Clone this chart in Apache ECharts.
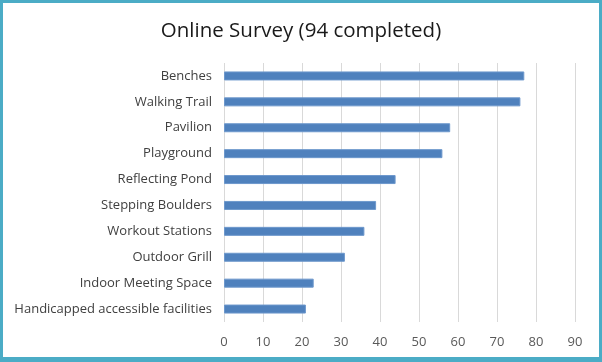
<!DOCTYPE html>
<html>
<head>
<meta charset="utf-8">
<script src="https://cdn.jsdelivr.net/npm/echarts@6/dist/echarts.min.js"></script>
<style>
html,body{margin:0;padding:0;background:#fff;}
#frame{position:absolute;left:0;top:0;width:602px;height:362px;box-sizing:border-box;border-style:solid;border-color:#4BACC6;border-width:3px 3px 5px 3px;}
#chart{position:absolute;left:0;top:0;width:602px;height:362px;}
</style>
</head>
<body>
<div id="chart"></div>
<div id="frame"></div>
<script>
var categories = ["Benches","Walking Trail","Pavilion","Playground","Reflecting Pond","Stepping Boulders","Workout Stations","Outdoor Grill","Indoor Meeting Space","Handicapped accessible facilities"];
var values = [77,76,58,56,44,39,36,31,23,21];
var xTicks = {min:0, max:90, interval:10};
var title = "Online Survey (94 completed)";

var chart = echarts.init(document.getElementById('chart'), null, {renderer:'canvas'});
chart.setOption({
  animation:false,
  backgroundColor:'#fff',
  title:{text:title,left:'center',top:16,textStyle:{fontFamily:'Open Sans',fontWeight:'normal',fontSize:20.5,color:'#1a1a1a'}},
  grid:{left:224,right:27,top:63,bottom:40,containLabel:false},
  xAxis:{type:'value',min:xTicks.min,max:xTicks.max,interval:xTicks.interval,
    axisLine:{show:false},axisTick:{show:false},
    splitLine:{lineStyle:{color:'#d9d9d9',width:1}},
    axisLabel:{color:'#595959',fontFamily:'Open Sans',fontSize:13,margin:14}},
  yAxis:{type:'category',data:categories,inverse:true,
    axisLine:{show:false},axisTick:{show:false},
    axisLabel:{color:'#404040',fontFamily:'Open Sans',fontSize:13,margin:12}},
  series:[{type:'bar',data:values,barWidth:9,
    itemStyle:{color:'#4F81BD',borderColor:'#6D98CC',borderWidth:1}}]
});
</script>
</body>
</html>
